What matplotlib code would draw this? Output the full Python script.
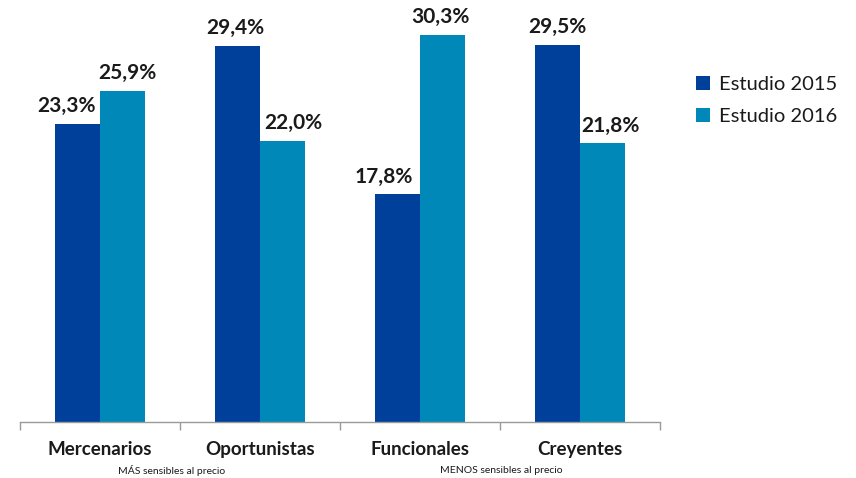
import matplotlib
matplotlib.use("Agg")
import matplotlib.pyplot as plt
import numpy as np

categories = ["Mercenarios", "Oportunistas", "Funcionales", "Creyentes"]
series_names = ["Estudio 2015", "Estudio 2016"]
values_2015 = [23.3, 29.4, 17.8, 29.5]
values_2016 = [25.9, 22.0, 30.3, 21.8]
sub_labels = ["MÁS sensibles al precio", "MENOS sensibles al precio"]
colors = ["#00409A", "#0088B8"]

# horizontal nudges (points) of value labels, as in the original layout
label_dx = [[-8, -1.5, -10, 0], [3.5, 8, -1.5, 6]]

plt.rcParams['font.family'] = ['Lato', 'DejaVu Sans']

fig = plt.figure(figsize=(8.56, 4.78), dpi=100)
ax = fig.add_axes([20/856, 1 - 422/478, 640/856, 422/478])

x = np.arange(len(categories))
w = 0.28
for i, (vals, c, name) in enumerate(zip([values_2015, values_2016], colors, series_names)):
    pos = x + (i - 0.5) * w
    ax.bar(pos, vals, width=w, color=c, label=name, zorder=2)
    for j, (p, v) in enumerate(zip(pos, vals)):
        ax.annotate(f"{v:.1f}%".replace(".", ","), (p, v), xytext=(label_dx[i][j], 5.5),
                    textcoords="offset points", ha="center", va="bottom",
                    fontsize=15, fontweight="bold", color="#1a1a1a")

ax.set_xlim(-0.5, len(categories) - 0.5)
ax.set_ylim(0, 33)
for s in ["top", "right", "left"]:
    ax.spines[s].set_visible(False)
ax.spines["bottom"].set_color("#9a9a9a")
ax.spines["bottom"].set_linewidth(1)
ax.set_yticks([])
ax.set_xticks(np.arange(-0.5, len(categories), 1.0))
ax.set_xticklabels([])
ax.tick_params(axis="x", length=6, color="#9a9a9a", width=1)

for xi, cat in zip(x, categories):
    ax.text(xi, -0.065, cat, transform=ax.get_xaxis_transform(), ha="center", va="center",
            fontsize=13.5, fontweight="bold", color="#1a1a1a")
ax.text(0.45, -0.115, sub_labels[0], transform=ax.get_xaxis_transform(), ha="center", va="center",
        fontsize=7.5, color="#1a1a1a")
ax.text(2.51, -0.115, sub_labels[1], transform=ax.get_xaxis_transform(), ha="center", va="center",
        fontsize=7.5, color="#1a1a1a")

leg = fig.legend(loc="upper left", bbox_to_anchor=(678/856, 1 - 58/478), frameon=False,
                 fontsize=14.5, handlelength=0.7, handleheight=0.7, handletextpad=0.45,
                 labelspacing=0.75)
for t in leg.get_texts():
    t.set_color("#1a1a1a")

fig.savefig("out.png", dpi=100)
